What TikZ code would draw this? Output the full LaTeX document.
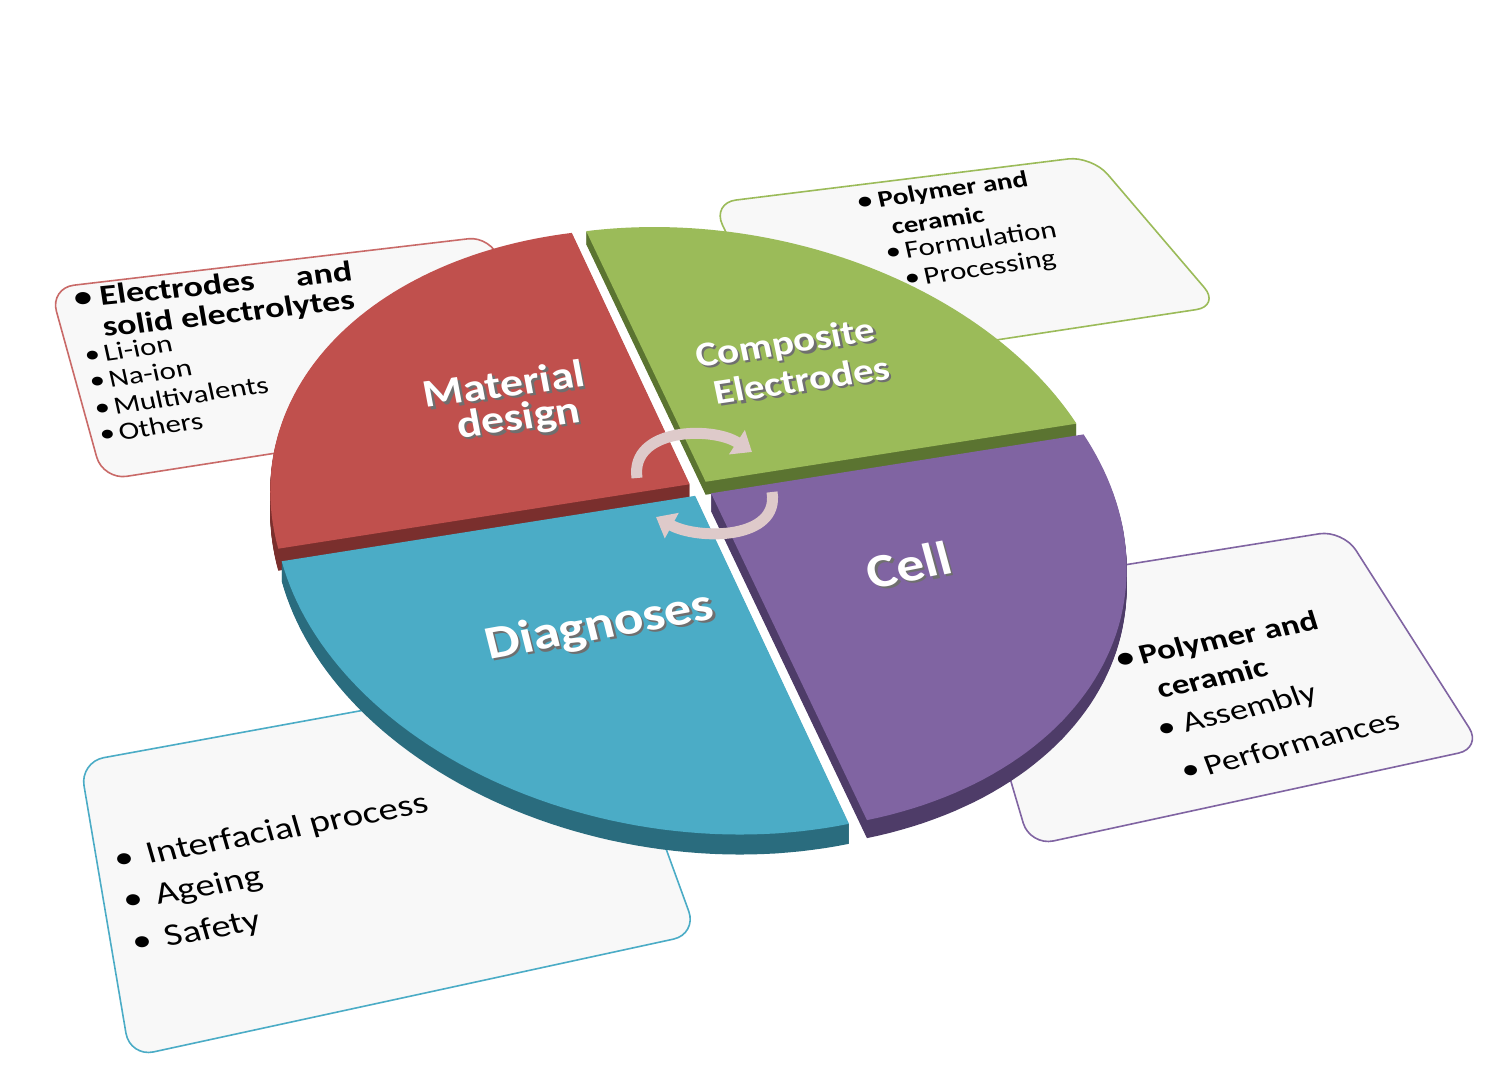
\documentclass[tikz,border=0pt]{standalone}
\usepackage{fontspec}
\setmainfont{Carlito}
\usetikzlibrary{arrows.meta}

\definecolor{matred}{HTML}{C0504D}
\definecolor{matredside}{HTML}{7A2F2D}
\definecolor{compgreen}{HTML}{9BBB59}
\definecolor{compgreenside}{HTML}{5B7431}
\definecolor{cellviolet}{HTML}{8064A2}
\definecolor{cellvioletside}{HTML}{4E3C68}
\definecolor{diagblue}{HTML}{4BACC6}
\definecolor{diagblueside}{HTML}{2A6C7E}
\definecolor{boxfill}{HTML}{F8F8F8}
\definecolor{cyclecol}{HTML}{DECACA}
\definecolor{lblshadow}{HTML}{6F6F6F}

\newcommand{\setfs}[1]{\fontsize{#1}{#1}\selectfont}
% white label with a grey shadow under it
\newcommand{\shadowed}[1]{\makebox[0pt][l]{\kern1pt\raisebox{-1.5pt}{\textcolor{lblshadow}{#1}}}#1}
% one quarter of the pie, corner (#1,#2) in the plane, arc from #3 to #4 degrees
\newcommand{\qpath}[4]{({hx(#1,#2)},{hy(#1,#2)}) -- plot[domain=#3:#4,samples=60]
  ({hx(#1+0.98*cos(\x),#2+0.98*sin(\x))},{hy(#1+0.98*cos(\x),#2+0.98*sin(\x))}) -- cycle}

\tikzset{
  infobox/.style={fill=boxfill, line width=0.8pt, rounded corners=12pt},
  boxtext/.style={anchor=base west, inner sep=0pt, text=black, yscale=0.8},
  pielabel/.style={anchor=center, inner sep=0pt, text=white, yscale=0.85},
  cycarrow/.style={draw=cyclecol, line width=5.5pt, -{Triangle[width=14pt,length=9pt]}}
}

\begin{document}
\begin{tikzpicture}[x=0.5pt,y=-0.5pt,
  declare function={
    hw(\pu,\pv)=0.05107*\pu+0.12955*\pv+1;
    hx(\pu,\pv)=(434.73*\pu-46.42*\pv+700.43)/hw(\pu,\pv);
    hy(\pu,\pv)=(-37.87*\pu-226.73*\pv+488.78)/hw(\pu,\pv);
  }]
  \fill[white] (0,0) rectangle (1492,1065);
  \useasboundingbox (0,0) rectangle (1492,1065);

  % boxes behind the pie
  \draw[infobox, draw=matred!85] (50,288) -- (492,236) -- (546,411) -- (103,480) -- cycle;
  \draw[infobox, draw=compgreen] (712,203) -- (1092,156) -- (1220,306) -- (792,371) -- cycle;
  \draw[infobox, draw=cellviolet] (955,592) -- (1343,530) -- (1482,748) -- (1030,846) -- cycle;
  \draw[infobox, draw=diagblue] (80,762) -- (600,667) -- (697,934) -- (130,1057) -- cycle;

  % pie, back pieces first
  \foreach \k in {0.5,1,...,6.5} \fill[compgreenside, yshift=-\k pt] \qpath{0.02}{0.02}{0}{90};
  \fill[compgreen] \qpath{0.02}{0.02}{0}{90};
  \foreach \k in {0.5,1,...,11} \fill[matredside, yshift=-\k pt] \qpath{-0.02}{0.02}{90}{180};
  \fill[matred] \qpath{-0.02}{0.02}{90}{180};
  \foreach \k in {0.5,1,...,9} \fill[cellvioletside, yshift=-\k pt] \qpath{0.02}{-0.02}{270}{360};
  \fill[cellviolet] \qpath{0.02}{-0.02}{270}{360};
  \foreach \k in {0.5,1,...,10} \fill[diagblueside, yshift=-\k pt] \qpath{-0.02}{-0.02}{180}{270};
  \fill[diagblue] \qpath{-0.02}{-0.02}{180}{270};

  % cycle arrows
  \coordinate (cycA) at (637,478);
  \coordinate (cycB) at (752,452);
  \coordinate (cycC) at (772,492);
  \coordinate (cycD) at (656,517);
  \draw[cycarrow] (cycA) .. controls (630,428) and (712,426) .. (cycB);
  \draw[cycarrow] (cycC) .. controls (780,540) and (698,540) .. (cycD);

  % pie labels
  \node[pielabel, font=\setfs{23}\bfseries, rotate=9] (material) at (504,385) {\shadowed{Material}};
  \node[pielabel, font=\setfs{23}\bfseries, rotate=9] (design) at (519,421) {\shadowed{design}};
  \node[pielabel, font=\setfs{20.5}\bfseries, rotate=10] (composite) at (786,346) {\shadowed{Composite}};
  \node[pielabel, font=\setfs{20.5}\bfseries, rotate=10] (electrodes) at (802,381) {\shadowed{Electrodes}};
  \node[pielabel, font=\setfs{27.5}\bfseries, rotate=12] (diagnoses) at (600,628) {\shadowed{Diagnoses}};
  \node[pielabel, font=\setfs{28}\bfseries, rotate=13] (cell) at (909,566) {\shadowed{Cell}};

  % material design box
  \node[boxtext, font=\setfs{18}\bfseries, rotate=7] (elec) at (75,308) {\textbullet\hspace{4pt}Electrodes\hspace{21pt}and};
  \node[boxtext, font=\setfs{18}\bfseries, rotate=8] (solid) at (104,337) {solid electrolytes};
  \node[boxtext, font=\setfs{15.5}, rotate=10] (liion) at (86,364) {\textbullet\hspace{2pt}Li-ion};
  \node[boxtext, font=\setfs{15.5}, rotate=10] (naion) at (91,390) {\textbullet\hspace{2pt}Na-ion};
  \node[boxtext, font=\setfs{15.5}, rotate=10] (multi) at (96,417) {\textbullet\hspace{2pt}Multivalents};
  \node[boxtext, font=\setfs{15.5}, rotate=10] (others) at (101,443) {\textbullet\hspace{2pt}Others};

  % composite electrodes box
  \node[boxtext, font=\setfs{14.5}\bfseries, rotate=10] (polyA) at (859,210) {\textbullet\hspace{3pt}Polymer and};
  \node[boxtext, font=\setfs{14.5}\bfseries, rotate=10] (ceramA) at (893,235) {ceramic};
  \node[boxtext, font=\setfs{15.5}, rotate=10] (formul) at (887,261) {\textbullet\hspace{2pt}Formulation};
  \node[boxtext, font=\setfs{15.5}, rotate=10] (process) at (906,287) {\textbullet\hspace{2pt}Processing};

  % cell box
  \node[boxtext, font=\setfs{17.5}\bfseries, rotate=14] (polyB) at (1119,669) {\textbullet\hspace{3pt}Polymer and};
  \node[boxtext, font=\setfs{17.5}\bfseries, rotate=15] (ceramB) at (1160,699) {ceramic};
  \node[boxtext, font=\setfs{18}, rotate=17] (assembly) at (1161,739) {\textbullet\hspace{4pt}Assembly};
  \node[boxtext, font=\setfs{18}, rotate=17] (perform) at (1185,781) {\textbullet\hspace{3pt}Performances};

  % diagnoses box
  \node[boxtext, font=\setfs{19.5}, rotate=13] (interf) at (117,870) {\textbullet\hspace{7pt}Interfacial process};
  \node[boxtext, font=\setfs{19.5}, rotate=13] (ageing) at (126,911) {\textbullet\hspace{7pt}Ageing};
  \node[boxtext, font=\setfs{19.5}, rotate=13] (safety) at (135,953) {\textbullet\hspace{7pt}Safety};
\end{tikzpicture}
\end{document}
